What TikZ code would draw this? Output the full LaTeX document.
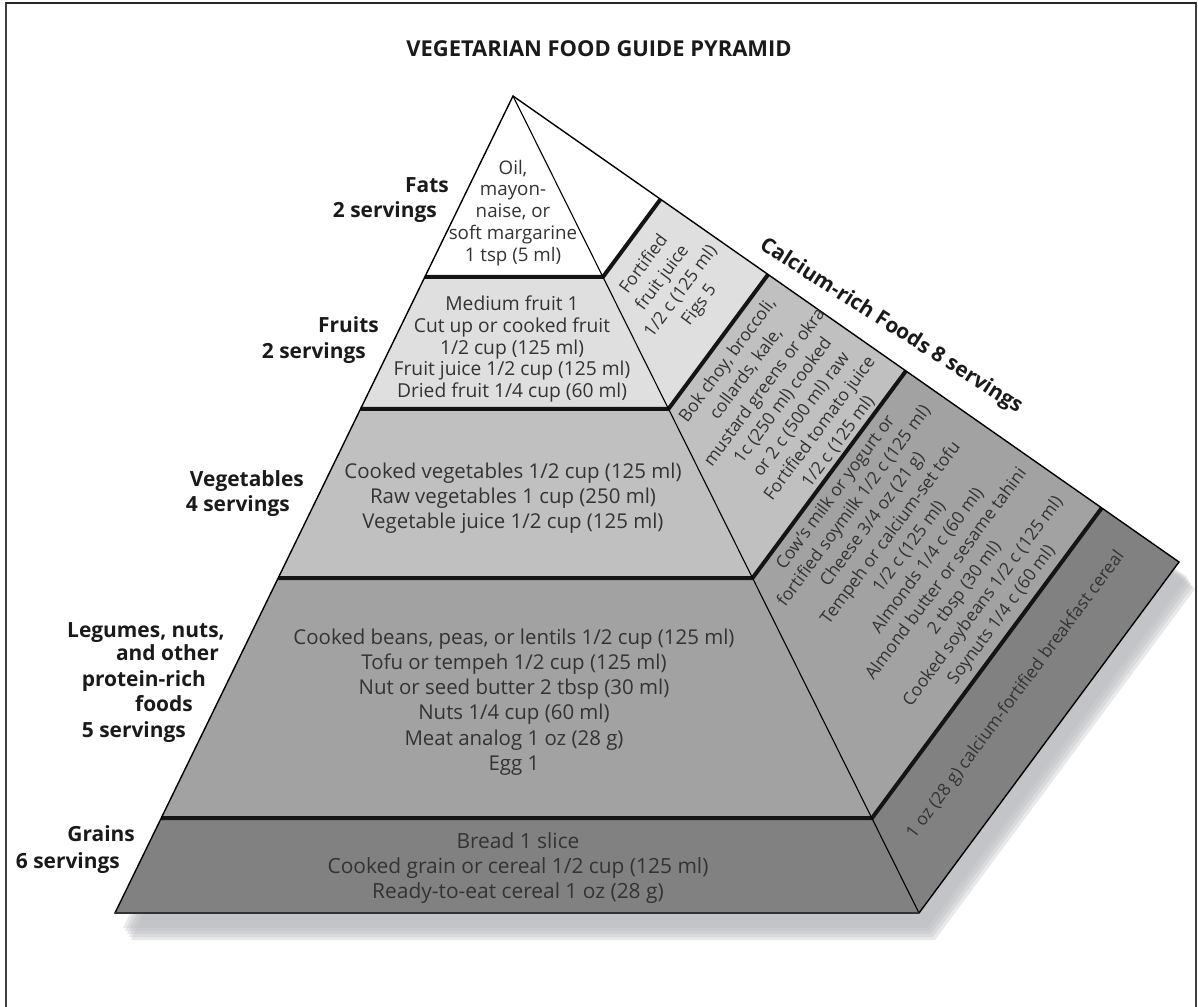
\documentclass[tikz,border=0pt]{standalone}
\usepackage{fontspec}
\setmainfont{Open Sans}
\usetikzlibrary{calc}
\definecolor{cfruit}{HTML}{DFDFDF}
\definecolor{cveg}{HTML}{C0C0C0}
\definecolor{cleg}{HTML}{A2A2A2}
\definecolor{cgrain}{HTML}{818181}
\definecolor{cshadow}{HTML}{B9BABE}
\definecolor{txt}{HTML}{333333}
\definecolor{lbl}{HTML}{1A1A1A}
\begin{document}
\begin{tikzpicture}[x=1bp,y=-1bp,
  body/.style={text=txt, font=\fontsize{20.5}{#1}\selectfont, align=center, inner sep=0pt},
  body/.default=25,
  sidetext/.style={text=txt, font=\fontsize{17.5}{#1}\selectfont, align=center, inner sep=0pt, rotate=53.5},
  sidetext/.default=23,
  lab/.style={text=lbl, font=\bfseries\fontsize{21}{25}\selectfont, anchor=base east, inner sep=0pt},
  divline/.style={line width=4bp, black!92, line join=miter},
  outline/.style={line width=1.4bp, black},
  shadowlayer/.style={fill=cshadow, fill opacity=0.32}
]
\useasboundingbox (0,0) rectangle (1198,1007);
% frame
\draw[line width=1.2bp, black!75] (6,1012) -- (6,3) -- (1196,3) -- (1196,1012);
\draw[line width=2.2bp, black!85] (6,3) -- (1196,3);
% title
\node[text=lbl, font=\bfseries\fontsize{22}{26}\selectfont, anchor=base, inner sep=0pt] (title) at (599,56) {VEGETARIAN FOOD GUIDE PYRAMID};

% main points
\coordinate (A) at (513,96);
\coordinate (L) at (115,913);
\coordinate (B) at (919,913);
\coordinate (C) at (1179,562);
\foreach \i/\t in {1/0.2215,2/0.383,3/0.59,4/0.884}{
  \coordinate (l\i) at ($(A)!\t!(L)$);
  \coordinate (r\i) at ($(A)!\t!(B)$);
  \coordinate (s\i) at ($(A)!\t!(C)$);
}
% shadow
\foreach \dx/\dy in {8/15,10/18,12/21,14/24,16/27}{
  \fill[shadowlayer] ([shift={(\dx,\dy)}]A) -- ([shift={(\dx,\dy)}]L) -- ([shift={(\dx,\dy)}]B) -- ([shift={(\dx,\dy)}]C) -- cycle;
}
% front faces
\fill[white] (A) -- (l1) -- (r1) -- cycle;
\fill[cfruit] (l1) -- (l2) -- (r2) -- (r1) -- cycle;
\fill[cveg] (l2) -- (l3) -- (r3) -- (r2) -- cycle;
\fill[cleg] (l3) -- (l4) -- (r4) -- (r3) -- cycle;
\fill[cgrain] (l4) -- (L) -- (B) -- (r4) -- cycle;
% side faces
\fill[white] (A) -- (r1) -- (s1) -- cycle;
\fill[cfruit] (r1) -- (r2) -- (s2) -- (s1) -- cycle;
\fill[cveg] (r2) -- (r3) -- (s3) -- (s2) -- cycle;
\fill[cleg] (r3) -- (r4) -- (s4) -- (s3) -- cycle;
\fill[cgrain] (r4) -- (B) -- (C) -- (s4) -- cycle;
% dividing lines
\foreach \i in {1,2,3,4}{
  \draw[divline] (l\i) -- (r\i) -- (s\i);
}
% outline
\draw[line width=1.1bp] (A) -- (B);
\draw[outline, line join=miter] (A) -- (L) -- (B) -- (C) -- cycle;
\draw[line width=2bp, black!80] (L) -- (B);

% front texts
\node[body=22, font=\fontsize{18.8}{22}\selectfont] (fatsT) at (513,213) {Oil,\\mayon-\\naise, or\\soft margarine\\1 tsp (5 ml)};
\node[body=22, font=\fontsize{19.3}{22}\selectfont] (fruitsT) at (512,349) {Medium fruit 1\\Cut up or cooked fruit\\1/2 cup (125 ml)\\Fruit juice 1/2 cup (125 ml)\\Dried fruit 1/4 cup (60 ml)};
\node[body=25] (vegT) at (513,498) {Cooked vegetables 1/2 cup (125 ml)\\Raw vegetables 1 cup (250 ml)\\Vegetable juice 1/2 cup (125 ml)};
\node[body=25.3] (legT) at (514,702) {Cooked beans, peas, or lentils 1/2 cup (125 ml)\\Tofu or tempeh 1/2 cup (125 ml)\\Nut or seed butter 2 tbsp (30 ml)\\Nuts 1/4 cup (60 ml)\\Meat analog 1 oz (28 g)\\Egg 1};
\node[body=25, font=\fontsize{21}{25}\selectfont] (grainT) at (518,868) {Bread 1 slice\\Cooked grain or cereal 1/2 cup (125 ml)\\Ready-to-eat cereal 1 oz (28 g)};

% side texts
\node[sidetext] (sfruitT) at (672,285) {Fortified\\fruit juice\\1/2 c (125 ml)\\Figs 5};
\node[sidetext] (svegT) at (783,401) {Bok choy, broccoli,\\collards, kale,\\mustard greens or okra\\1c (250 ml) cooked\\or 2 c (500 ml) raw\\Fortified tomato juice\\1/2 c (125 ml)};
\node[sidetext] (slegT) at (919,554) {Cow's milk or yogurt or\\fortified soymilk 1/2 c (125 ml)\\Cheese 3/4 oz (21 g)\\Tempeh or calcium-set tofu\\1/2 c (125 ml)\\Almonds 1/4 c (60 ml)\\Almond butter or sesame tahini\\2 tbsp (30 ml)\\Cooked soybeans 1/2 c (125 ml)\\Soynuts 1/4 c (60 ml)};
\node[sidetext] (sgrainT) at (1016,695) {1 oz (28 g) calcium-fortified breakfast cereal};

% calcium label
\node[text=lbl, font=\bfseries\fontsize{21}{25}\selectfont, anchor=base, inner sep=0pt, rotate=-32.5] (calc) at (888,331) {Calcium-rich Foods 8 servings};

% left labels
\node[lab] (fats1) at (449,192.7) {Fats};
\node[lab] (fats2) at (437,217) {2 servings};
\node[lab] (fru1) at (379,332.7) {Fruits};
\node[lab] (fru2) at (366,358.3) {2 servings};
\node[lab] (veg1) at (304,486.7) {Vegetables};
\node[lab] (veg2) at (290,511.7) {4 servings};
\node[lab] (leg1) at (225,637.3) {Legumes, nuts,};
\node[lab] (leg2) at (219,660) {and other};
\node[lab] (leg3) at (206,686) {protein-rich};
\node[lab] (leg4) at (193,711.7) {foods};
\node[lab] (leg5) at (186,737.3) {5 servings};
\node[lab] (gr1) at (135,841.7) {Grains};
\node[lab] (gr2) at (120,868.3) {6 servings};
\end{tikzpicture}
\end{document}
